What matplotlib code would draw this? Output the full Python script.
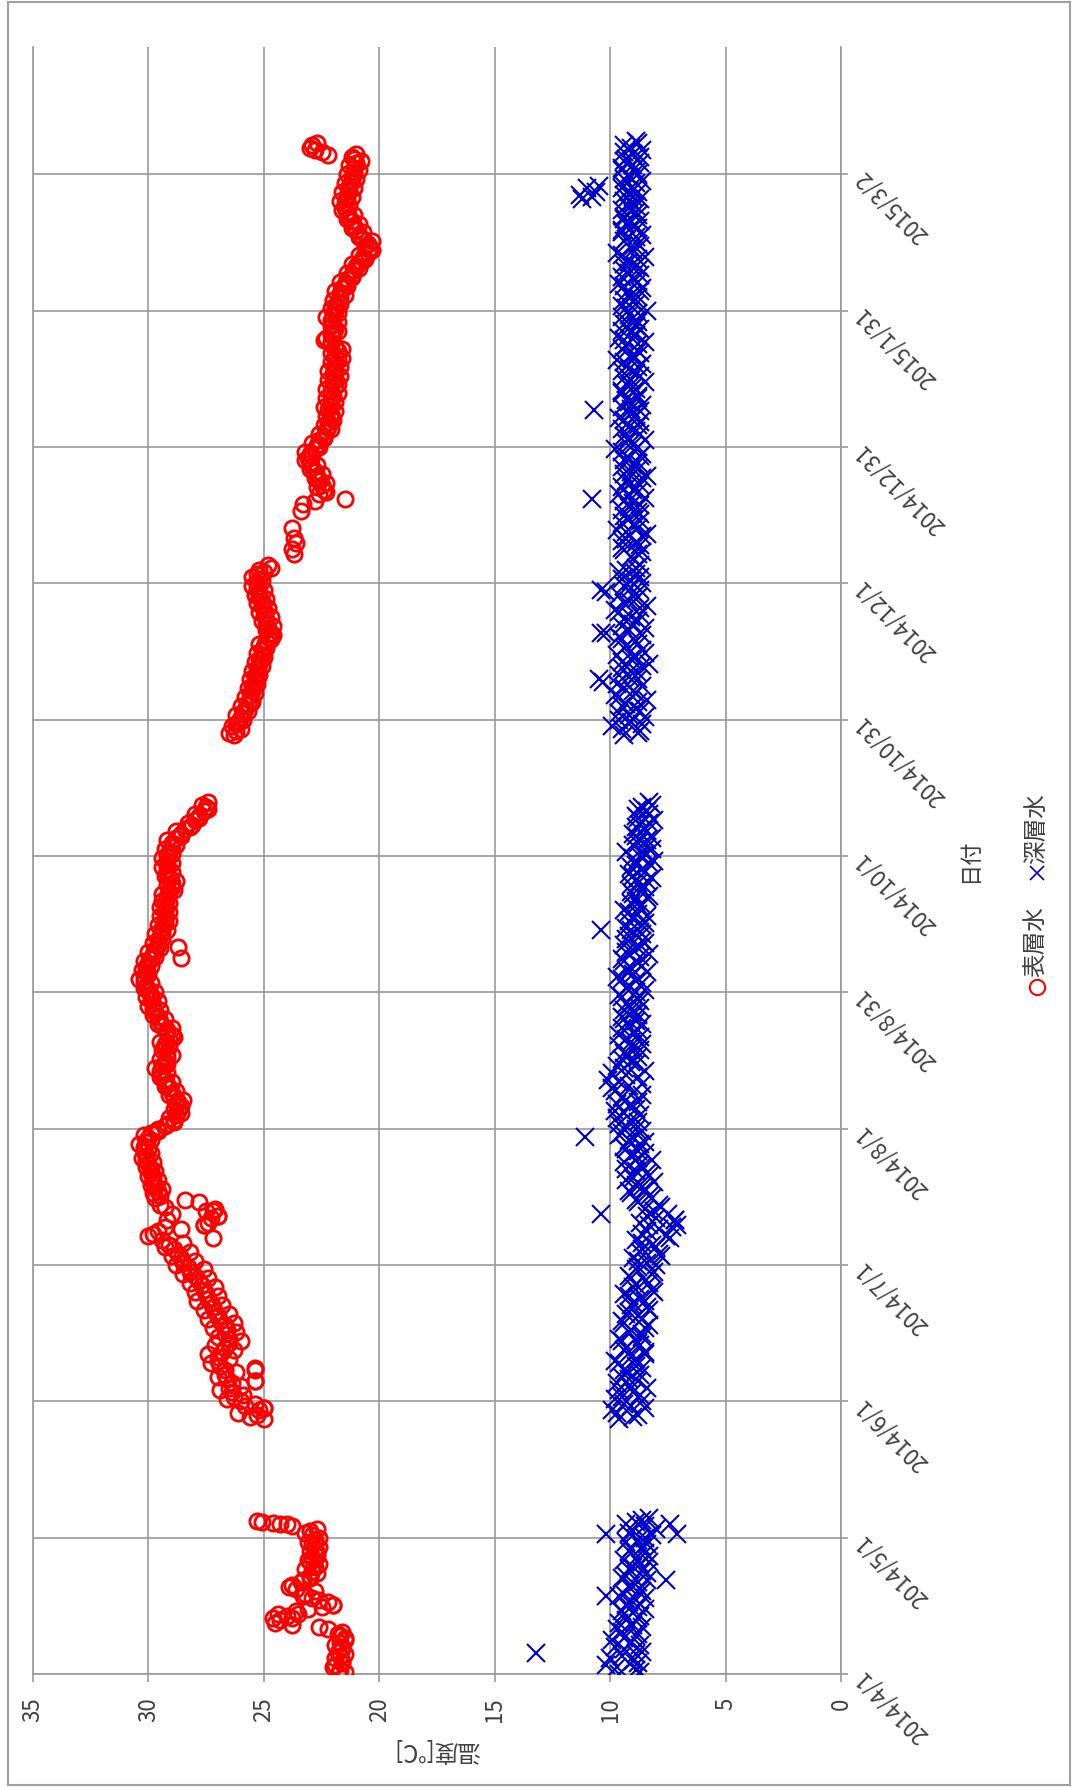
import numpy as np
import matplotlib.pyplot as plt
from matplotlib.lines import Line2D
from matplotlib.patches import Rectangle
from datetime import date

plt.rcParams['font.family'] = ['Noto Sans CJK JP', 'DejaVu Sans']

# day 0 of the date axis
origin = date(2014, 4, 1)

# date axis labels, one every 30.5 days
date_labels = ['2014/4/1', '2014/5/1', '2014/6/1', '2014/7/1', '2014/8/1', '2014/8/31',
               '2014/10/1', '2014/10/31', '2014/12/1', '2014/12/31', '2015/1/31', '2015/3/2']
temp_ticks = [0, 5, 10, 15, 20, 25, 30, 35]

# surface water: morning readings (one a day) for each continuous stretch
surf1_start = date(2014, 4, 1)
surf1 = [21.8, 21.7, 21.9, 21.6, 21.7, 21.8, 21.6, 21.7, 21.5, 21.8,
         22.2, 23.8, 24.3, 24.0, 23.6, 22.5, 22.2, 22.9, 23.2, 23.6,
         23.8, 23.3, 23.0, 22.9, 22.8, 23.0, 22.9, 22.7, 22.8, 22.9,
         22.8, 22.9, 23.0, 23.8, 25.1]

surf2_start = date(2014, 5, 28)
surf2 = [25.0, 25.3, 25.2, 25.8, 26.0, 26.3, 26.4, 26.5, 26.4, 26.6,
         26.7, 26.7, 26.9, 27.0, 27.0, 26.8, 26.7, 26.5, 26.5, 26.7,
         26.6, 26.7, 26.9, 27.0, 27.1, 27.2, 27.3, 27.4, 27.5, 27.6,
         27.7, 27.8, 28.0, 28.2, 28.3, 28.5, 28.6, 28.7, 28.9, 29.1,
         29.4, 30.0, 29.6, 29.3, 27.4, 27.3, 29.0, 27.1, 29.5, 28.4,
         29.5, 29.6, 29.7, 29.8, 29.8, 29.9, 29.9, 30.0, 30.1, 30.1,
         30.2, 30.2, 30.1, 30.0, 29.9, 29.6, 29.2, 28.9, 28.8, 28.7,
         28.6, 28.7, 28.9, 29.0, 29.1, 29.2, 29.3, 29.4, 29.5, 29.4,
         29.3, 29.2, 29.2, 29.3, 29.3, 29.1, 29.0, 29.2, 29.4, 29.5,
         29.6, 29.7, 29.8, 29.8, 29.9, 29.9, 30.0, 30.1, 30.2, 30.2,
         30.1, 30.1, 30.0, 29.9, 29.8, 29.7, 29.6, 29.6, 29.5, 29.4,
         29.4, 29.3, 29.3, 29.3, 29.3, 29.3, 29.4, 29.2, 29.1, 29.0,
         29.0, 29.1, 29.2, 29.2, 29.2, 29.2, 29.2, 29.1, 29.0, 29.0,
         28.8, 28.6, 28.4, 28.1, 28.0, 27.8, 27.6, 27.5, 27.4]

surf3_start = date(2014, 10, 28)
surf3 = [26.3, 26.2, 26.4, 26.1, 26.0, 25.9, 25.8, 25.7, 25.6, 25.6,
         25.5, 25.5, 25.4, 25.4, 25.3, 25.3, 25.2, 25.2, 25.1, 25.1,
         25.0, 24.9, 24.8, 24.7, 24.8, 24.9, 24.9, 25.0, 25.0, 25.1,
         25.1, 25.2, 25.2, 25.3, 25.3, 25.2, 25.3, 25.2, 24.8]

surf4_start = date(2014, 12, 21)
surf4 = [22.6, 22.4, 22.5, 22.6, 22.7, 22.8, 22.9, 23.0, 23.1, 23.0,
         22.8, 22.7, 22.6, 22.4, 22.3, 22.2, 22.2, 22.1, 22.1, 22.2,
         22.1, 22.1, 22.0, 22.1, 21.9, 22.0, 21.9, 22.0, 21.9, 21.9,
         21.8, 21.9, 21.8, 21.9, 22.1, 22.3, 22.0, 21.9, 22.0, 22.1,
         22.0, 21.9, 21.9, 21.8, 21.7, 21.7, 21.6, 21.5, 21.4, 21.2,
         21.1, 21.0, 20.8, 20.7, 20.5, 20.4, 20.5, 20.7, 20.9, 21.0,
         21.1, 21.2, 21.3, 21.4, 21.5, 21.5, 21.4, 21.4, 21.3, 21.3,
         21.2, 21.2, 21.1, 21.1, 21.0, 21.1, 21.0]

# surface water: evening readings (half a day later)
surf1b = [21.5, 22.0, 21.6, 21.9, 21.5, 21.6, 21.9, 21.5, 21.7, 21.6,
          22.6, 24.5, 23.8, 24.4, 23.1, 22.0, 22.6, 23.3, 22.8, 23.9,
          23.4, 23.0, 22.7, 23.2, 22.6, 23.1, 22.7, 23.0, 22.6, 23.1,
          22.6, 23.2, 22.7, 24.3]

surf2b = [25.6, 26.1, 25.0, 25.4, 26.6, 25.9, 26.9, 26.0, 25.4, 27.0,
          26.2, 25.4, 27.3, 26.5, 27.4, 26.3, 27.1, 26.0, 27.0, 26.2,
          27.2, 26.3, 27.4, 26.5, 27.6, 26.8, 27.9, 27.0, 28.0, 27.1,
          28.2, 27.4, 28.5, 27.6, 28.8, 28.0, 29.0, 28.2, 29.3, 28.5,
          27.2, 29.8, 28.6, 27.6, 29.2, 27.0, 27.5, 29.3, 27.8, 29.7,
          29.8, 29.4, 29.9, 29.6, 30.0, 29.7, 30.1, 29.8, 30.3, 29.9,
          30.0, 30.4, 29.9, 30.2, 29.6, 29.3, 28.9, 29.1, 28.6, 28.9,
          28.8, 28.5, 29.1, 28.8, 29.3, 29.0, 29.5, 29.2, 29.7, 29.2,
          29.5, 29.0, 29.4, 29.1, 29.5, 28.9, 29.2, 29.0, 29.6, 29.3,
          29.8, 29.5, 30.0, 29.6, 30.1, 29.7, 30.2, 29.9, 30.4, 30.0,
          30.3, 29.9, 30.2, 29.7, 30.0, 29.5, 29.8, 29.4, 29.7, 29.2,
          29.6, 29.1, 29.5, 29.1, 29.5, 29.1, 29.2, 29.4, 28.9, 29.2,
          28.8, 29.3, 29.0, 29.4, 29.0, 29.4, 29.0, 29.3, 28.8, 29.2,
          28.6, 28.8, 28.2, 28.3, 27.8, 28.0, 27.4, 27.7]

surf3b = [26.5, 26.0, 26.2, 25.9, 26.2, 25.7, 26.0, 25.5, 25.8, 25.4,
          25.7, 25.3, 25.6, 25.2, 25.5, 25.1, 25.4, 25.0, 25.3, 24.9,
          25.2, 24.7, 24.6, 24.9, 24.6, 25.1, 24.7, 25.2, 24.8, 25.3,
          24.9, 25.4, 25.0, 25.5, 25.1, 25.5, 25.0, 24.7]

surf4b = [22.3, 22.7, 22.3, 22.8, 22.5, 23.0, 22.7, 23.2, 22.9, 23.2,
          22.6, 22.9, 22.4, 22.6, 22.1, 22.4, 22.0, 22.3, 21.9, 22.4,
          21.9, 22.3, 21.8, 22.3, 21.8, 22.2, 21.7, 22.2, 21.7, 22.1,
          21.6, 22.1, 21.6, 22.1, 22.4, 22.1, 21.8, 22.1, 21.8, 22.3,
          21.8, 22.1, 21.7, 22.0, 21.5, 21.9, 21.4, 21.7, 21.2, 21.4,
          20.9, 21.2, 20.6, 20.9, 20.3, 20.6, 20.3, 20.9, 20.7, 21.2,
          20.9, 21.4, 21.1, 21.6, 21.3, 21.7, 21.2, 21.6, 21.1, 21.5,
          21.0, 21.4, 20.9, 21.3, 20.8, 21.2]

# scattered surface readings (days after 2014/4/1)
surf_extra_day = [12.5, 13.5, 15.5, 33.5, 33.8, 34.3, 59.6, 65.5, 68.0, 100.5,
                  102.5, 103.5, 160.2, 162.7, 250.5, 251.6, 253.1, 254.2, 256.4, 260.2,
                  261.7, 262.4, 262.8, 339.8, 340.5, 341.0, 341.5, 342.0, 342.6]
surf_extra_temp = [24.6, 23.5, 22.0, 24.0, 24.6, 25.3, 25.0, 25.4, 25.4, 27.6,
                   27.0, 27.2, 28.6, 28.7, 23.7, 23.8, 23.6, 23.7, 23.8, 23.4,
                   23.3, 22.8, 21.5, 22.2, 22.5, 22.8, 23.0, 22.9, 22.7]

# deep water: morning readings
deep1_start = date(2014, 4, 1)
deep1 = [9.6, 8.9, 10.2, 9.0, 9.5, 8.6, 9.8, 9.1, 9.4, 8.8,
         9.7, 9.0, 9.3, 8.7, 9.5, 8.8, 9.2, 8.5, 9.4, 8.7,
         9.1, 8.4, 9.3, 8.6, 9.0, 8.3, 8.9, 8.5, 9.1, 8.4,
         8.8, 8.2, 9.0, 8.5, 8.9, 8.3]

deep2_start = date(2014, 5, 28)
deep2 = [9.6, 8.8, 9.9, 9.1, 8.6, 9.5, 9.0, 8.4, 9.7, 9.2,
         8.7, 9.4, 8.9, 9.8, 9.1, 8.5, 9.3, 8.8, 9.6, 8.6,
         9.1, 8.3, 9.5, 8.8, 9.2, 8.4, 9.0, 8.7, 9.4, 8.2,
         8.9, 8.5, 9.2, 8.1, 8.8, 8.4, 9.0, 7.9, 8.6, 8.2,
         8.9, 7.6, 8.4, 7.3, 8.7, 8.0, 7.5, 8.5, 7.9, 8.9,
         8.3, 9.2, 8.6, 8.1, 9.0, 8.4, 9.3, 8.7, 8.2, 9.1,
         8.8, 9.4, 8.5, 9.0, 9.5, 8.9, 9.6, 9.1, 8.7, 9.8,
         9.2, 8.8, 9.5, 9.0, 9.9, 8.6, 10.1, 9.3, 8.5, 9.7,
         9.1, 8.8, 9.4, 9.0, 8.6, 9.3, 9.6, 8.8, 9.2, 8.9,
         9.5, 9.0, 8.7, 9.3, 8.8, 9.6, 8.5, 9.2, 8.9, 9.7,
         8.4, 9.1, 8.8, 9.5, 8.3, 9.0, 9.4, 8.6, 9.2, 8.7,
         9.3, 8.5, 9.0, 8.8, 9.4, 8.6, 8.9, 8.3, 9.1, 8.5,
         8.8, 8.2, 9.2, 8.6, 8.9, 8.1, 8.7, 9.3, 8.4, 8.8,
         8.2, 9.0, 8.5, 8.7, 8.1, 8.9, 8.4, 8.6, 8.3]

deep3_start = date(2014, 10, 28)
deep3 = [9.4, 8.7, 9.9, 9.1, 8.5, 9.6, 8.9, 9.3, 8.4, 9.8,
         9.0, 8.6, 10.3, 9.2, 8.8, 9.5, 8.3, 9.1, 9.7, 8.6,
         9.3, 8.9, 9.6, 10.2, 8.5, 9.0, 9.4, 8.7, 9.8, 8.4,
         9.2, 8.8, 10.2, 9.1, 8.6, 9.5, 8.9, 9.3, 8.7]

deep4_start = date(2014, 12, 7)
deep4 = [9.1, 8.6, 9.5, 8.9, 9.3, 8.4, 9.7, 9.0, 8.7, 9.4,
         8.8, 9.2, 9.0, 8.5, 9.6, 9.0, 8.7, 9.3, 8.4, 9.1,
         9.5, 8.8, 9.2, 8.6, 9.8, 9.0, 8.5, 9.4, 8.9, 9.2,
         8.7, 9.6, 9.1, 9.1, 8.6, 9.3, 8.8, 9.5, 9.0, 8.5,
         9.4, 8.9, 9.2, 8.6, 9.7, 9.0, 8.8, 9.3, 8.5, 9.6,
         9.1, 8.7, 9.4, 8.9, 9.2, 8.4, 9.5, 9.0, 8.8, 9.3,
         8.6, 9.6, 9.0, 8.7, 9.4, 8.9, 9.2, 8.5, 9.7, 9.1,
         8.8, 9.3, 8.6, 9.5, 9.0, 8.7, 9.4, 8.9, 9.2, 9.1,
         8.7, 9.4, 9.0, 9.4, 8.6, 9.2, 8.9, 9.5, 8.7, 9.3,
         9.0, 8.6, 9.4, 8.9]

# deep water: evening readings
deep1b = [8.7, 9.7, 8.8, 10.0, 8.9, 9.4, 8.7, 9.9, 8.9, 9.5,
          8.6, 9.6, 8.8, 9.4, 8.5, 9.3, 8.9, 9.6, 8.6, 9.2,
          8.8, 9.5, 8.4, 9.2, 8.7, 9.4, 8.3, 9.2, 8.6, 9.3,
          8.5, 9.2, 8.0, 9.3, 8.6]

deep2b = [9.0, 9.7, 8.5, 9.4, 9.8, 8.7, 9.6, 9.2, 8.8, 9.5,
          9.3, 8.6, 9.6, 8.9, 8.5, 9.4, 8.7, 9.5, 8.6, 9.2,
          8.5, 9.4, 8.6, 9.3, 8.3, 9.1, 8.5, 9.2, 8.1, 9.0,
          8.3, 9.1, 8.2, 8.9, 8.0, 8.8, 7.8, 8.7, 8.0, 8.6,
          7.4, 8.6, 7.9, 8.3, 7.2, 8.4, 8.1, 7.8, 8.8, 8.2,
          9.1, 8.5, 8.9, 9.3, 8.3, 8.9, 8.6, 9.4, 8.8, 8.5,
          9.3, 8.7, 9.2, 9.6, 8.6, 9.3, 8.8, 9.7, 9.4, 8.9,
          9.7, 9.3, 8.6, 9.8, 9.2, 9.6, 8.8, 9.9, 9.4, 8.9,
          9.5, 9.2, 8.7, 9.6, 9.1, 8.7, 9.0, 9.5, 8.6, 9.4,
          8.8, 9.4, 9.2, 8.7, 9.5, 8.9, 9.3, 8.6, 9.5, 9.0,
          9.3, 8.6, 9.4, 8.7, 9.3, 8.8, 8.5, 9.3, 8.6, 9.1,
          8.6, 9.2, 8.4, 9.2, 8.7, 9.1, 8.4, 9.0, 8.6, 9.1,
          8.4, 9.0, 8.5, 9.1, 8.3, 9.0, 8.5, 8.2, 9.0, 8.4,
          8.9, 8.4, 8.9, 8.3, 8.8, 8.3, 8.8, 8.2]

deep3b = [8.8, 9.5, 8.6, 9.6, 9.2, 8.7, 9.5, 8.8, 9.6, 8.9,
          9.4, 9.7, 8.8, 9.6, 9.1, 8.6, 9.5, 8.9, 8.5, 9.4,
          8.8, 9.5, 8.6, 9.2, 9.5, 8.8, 9.1, 9.6, 8.7, 9.4,
          8.9, 9.6, 8.7, 9.4, 9.1, 8.7, 9.6, 8.9]

deep4b = [8.8, 9.4, 8.7, 9.5, 8.6, 9.3, 8.8, 9.5, 9.2, 8.7,
          9.5, 8.7, 9.4, 9.2, 8.8, 9.5, 9.1, 8.6, 9.4, 8.8,
          9.0, 9.4, 8.7, 9.5, 8.8, 9.3, 9.2, 8.7, 9.5, 8.8,
          9.4, 8.9, 8.7, 9.5, 9.2, 8.8, 9.5, 8.9, 9.3, 9.1,
          8.7, 9.5, 8.8, 9.4, 9.0, 8.7, 9.5, 8.8, 9.4, 8.9,
          9.5, 8.9, 8.8, 9.5, 8.8, 9.3, 8.9, 9.4, 9.1, 8.7,
          9.4, 8.8, 9.5, 9.2, 8.7, 9.4, 8.8, 9.5, 9.0, 8.7,
          9.4, 8.9, 9.5, 8.8, 9.3, 9.4, 8.8, 9.5, 8.9, 9.4,
          9.0, 8.8, 9.5, 8.9, 9.4, 8.8, 9.5, 9.0, 9.4, 8.7,
          9.4, 9.1, 8.8]

deep_extra_day = [4.6, 17.5, 21.0, 31.4, 31.4, 33.5, 100.5, 101.5, 103.0, 120.2,
                  166.5, 222.5, 233.0, 242.6, 262.8, 282.8, 330.0, 330.5, 331.0, 331.5,
                  332.5, 333.0]
deep_extra_temp = [13.2, 10.2, 7.6, 10.2, 7.1, 7.4, 7.1, 7.2, 10.4, 11.1,
                   10.4, 10.5, 10.4, 10.4, 10.8, 10.7, 11.2, 10.8, 11.3, 10.6,
                   11.0, 10.5]


def days_of(start, values, shift=0.0):
    first = (start - origin).days
    return first + shift + np.arange(len(values))


surf_day = np.concatenate([
    days_of(surf1_start, surf1), days_of(surf2_start, surf2),
    days_of(surf3_start, surf3), days_of(surf4_start, surf4),
    days_of(surf1_start, surf1b, 0.5), days_of(surf2_start, surf2b, 0.5),
    days_of(surf3_start, surf3b, 0.5), days_of(surf4_start, surf4b, 0.5),
    surf_extra_day])
surf_temp = np.concatenate([surf1, surf2, surf3, surf4,
                            surf1b, surf2b, surf3b, surf4b, surf_extra_temp])

deep_day = np.concatenate([
    days_of(deep1_start, deep1), days_of(deep2_start, deep2),
    days_of(deep3_start, deep3), days_of(deep4_start, deep4),
    days_of(deep1_start, deep1b, 0.5), days_of(deep2_start, deep2b, 0.5),
    days_of(deep3_start, deep3b, 0.5), days_of(deep4_start, deep4b, 0.5),
    deep_extra_day])
deep_temp = np.concatenate([deep1, deep2, deep3, deep4,
                            deep1b, deep2b, deep3b, deep4b, deep_extra_temp])

W, H = 1072, 1787
fig = plt.figure(figsize=(W / 100, H / 100), dpi=100)
fig.patch.set_facecolor('white')

# plot area in pixels: x 33..841, y 47..1674
ax = fig.add_axes([33 / W, (H - 1674) / H, (841 - 33) / W, (1674 - 47) / H])

grid_col = '#9a9a9a'
text_col = '#404040'

ax.plot(surf_temp, surf_day, linestyle='none', marker='o', ms=11,
        mfc='none', mec='#ff0000', mew=2.0, zorder=3)
ax.plot(deep_temp, deep_day, linestyle='none', marker='x', ms=12.5,
        mec='#0000cc', mew=1.5, zorder=3)

ax.set_xlim(35, 0)
ax.set_ylim(0, 364)
ax.set_xticks(temp_ticks)
ax.set_yticks([i * 30.5 for i in range(len(date_labels))])
ax.set_yticklabels(date_labels)

ax.grid(True, color=grid_col, linewidth=1.2)
ax.set_axisbelow(True)
ax.spines['top'].set_visible(False)
for side in ['left', 'right', 'bottom']:
    ax.spines[side].set_color(grid_col)
    ax.spines[side].set_linewidth(1.2)

ax.tick_params(axis='x', direction='out', length=6, width=1.2, color=grid_col,
               pad=11, labelsize=16, labelcolor=text_col, labelrotation=90)
ax.yaxis.tick_right()
ax.tick_params(axis='y', direction='out', length=5, width=1.2, color=grid_col,
               pad=8, labelsize=16, labelcolor=text_col)
for lbl in ax.get_yticklabels():
    lbl.set_rotation(135)
    lbl.set_rotation_mode('anchor')
    lbl.set_ha('right')
    lbl.set_va('center')

# axis titles (whole chart is turned a quarter turn)
ax.set_xlabel('温度[℃]', fontsize=17, color=text_col)
ax.xaxis.label.set_rotation(180)
ax.xaxis.label.set_va('center')
ax.xaxis.set_label_coords(0.5, (1674 - 1750) / (1674 - 47))

ax.yaxis.set_label_position('right')
ax.set_ylabel('日付', fontsize=16, color=text_col)
ax.yaxis.label.set_rotation(90)
ax.yaxis.label.set_rotation_mode('default')
ax.yaxis.label.set_va('center')
ax.yaxis.label.set_ha('center')
ax.yaxis.set_label_coords((970 - 33) / (841 - 33), 0.5)

# legend, drawn by hand so it can be turned with the rest
leg_x = 1037 / W
fig.add_artist(Line2D([leg_x], [1 - 987 / H], transform=fig.transFigure, linestyle='none',
                      marker='o', ms=11, mfc='none', mec='#ff0000', mew=1.5))
fig.text(leg_x, 1 - 977 / H, '表層水', rotation=90, ha='center', va='bottom',
         fontsize=17, color=text_col)
fig.add_artist(Line2D([leg_x], [1 - 873 / H], transform=fig.transFigure, linestyle='none',
                      marker='x', ms=10, mec='#0000cc', mew=1.2))
fig.text(leg_x, 1 - 864 / H, '深層水', rotation=90, ha='center', va='bottom',
         fontsize=17, color=text_col)

# outer chart border
fig.add_artist(Rectangle((8 / W, 2 / H), (1070 - 8) / W, (1785 - 2) / H,
                         transform=fig.transFigure, fill=False, ec='#a0a0a0', lw=1.5))

fig.savefig('out.png', dpi=100)
